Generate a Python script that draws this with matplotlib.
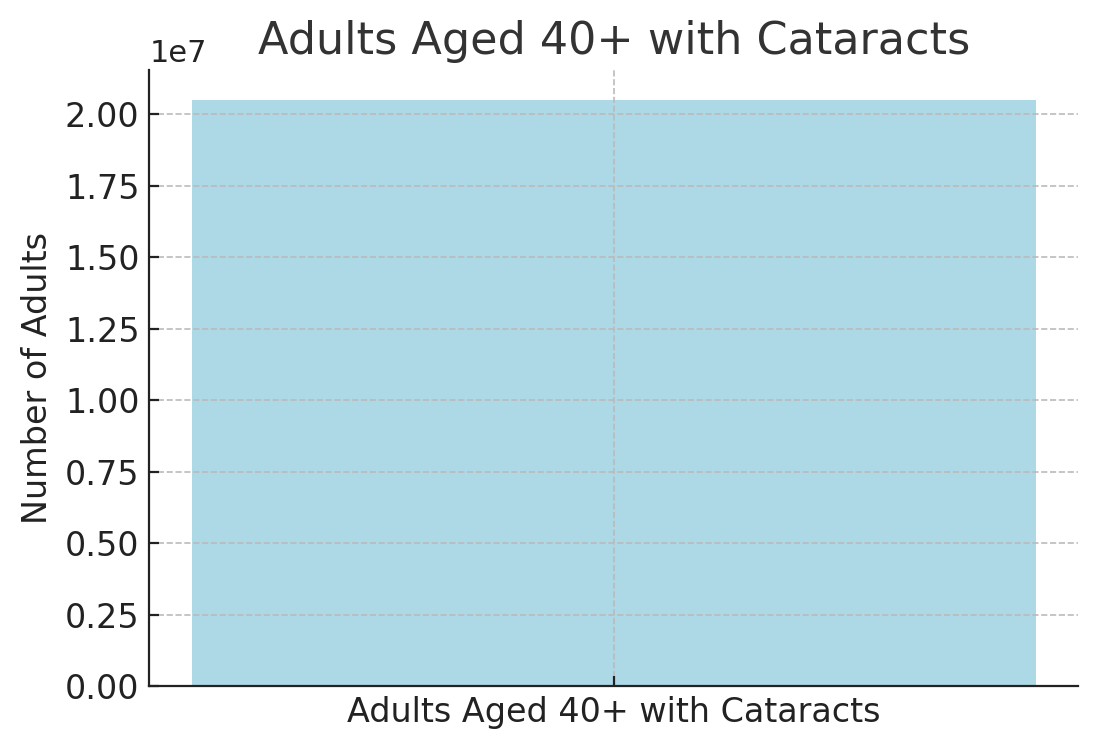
import matplotlib.pyplot as plt

categories = ['Adults Aged 40+ with Cataracts']
values = [20500000]


def main() -> None:
    fig, ax = plt.subplots(figsize=(5.49, 3.745), dpi=200)

    ax.bar(categories, values, color='lightblue')
    ax.set_title('Adults Aged 40+ with Cataracts', fontsize=16, color='#333333')
    ax.set_ylabel('Number of Adults', fontsize=12, color='#222222')
    ax.tick_params(axis='both', labelsize=12, colors='#222222', direction='in')
    ax.yaxis.get_offset_text().set_fontsize(11)
    ax.grid(True, linestyle='--', color='#bbbbbb', linewidth=0.6)
    for side in ('top', 'right'):
        ax.spines[side].set_visible(False)
    for side in ('left', 'bottom'):
        ax.spines[side].set_color('#222222')

    fig.subplots_adjust(left=0.136, right=0.982, top=0.906, bottom=0.084)
    fig.savefig('out.png')
    plt.close(fig)


if __name__ == '__main__':
    main()
